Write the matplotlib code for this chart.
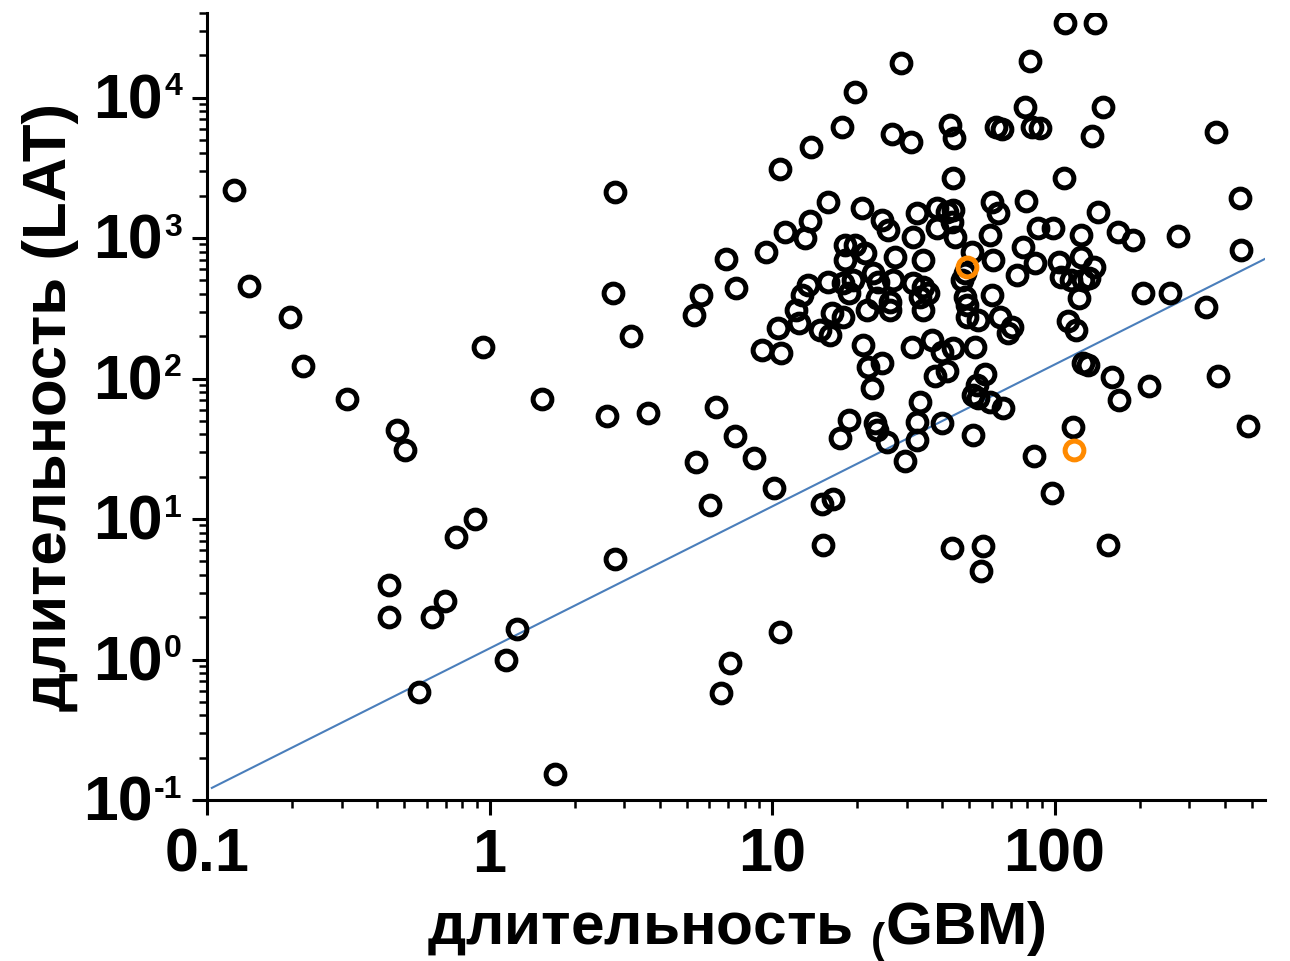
import numpy as np
import matplotlib
matplotlib.use('Agg')
import matplotlib.pyplot as plt
import matplotlib.transforms as mtransforms
from matplotlib.ticker import LogLocator, NullFormatter, FixedLocator, FixedFormatter
from matplotlib.offsetbox import TextArea, HPacker, AnnotationBbox

plt.rcParams['font.family'] = ['Liberation Sans', 'DejaVu Sans']
plt.rcParams['font.weight'] = 'bold'
plt.rcParams['mathtext.fontset'] = 'custom'
plt.rcParams['mathtext.rm'] = 'Liberation Sans:bold'
plt.rcParams['mathtext.bf'] = 'Liberation Sans:bold'
plt.rcParams['mathtext.default'] = 'bf'

# GBM / LAT durations (s)
gbm = [0.125, 0.141, 0.196, 0.219, 0.314, 0.472, 0.504, 0.95, 1.53, 2.77,
       2.73, 3.16, 2.60, 3.63, 0.885, 0.758, 0.442, 0.442, 0.628, 0.693,
       1.256, 1.14, 0.565, 1.71, 2.79, 6.02, 10.2, 15.0, 16.4, 15.1,
       43.3, 55.7, 55.0, 97.9, 155, 10.7, 7.08, 6.58, 109, 139,
       28.6, 81.8, 19.6, 78.5, 148, 17.7, 26.5, 31.0, 42.6, 44.0,
       62.0, 65.1, 83.2, 88.8, 136, 373, 13.7, 10.7, 43.6, 108,
       454, 274, 457, 256, 344, 379, 484, 206, 160, 169,
       216, 116, 84.5, 6.85, 5.59, 5.28, 7.44, 9.50, 11.1, 6.32,
       7.38, 8.61, 5.37, 15.8, 20.8, 13.6, 13.1, 24.5, 25.7, 32.5,
       31.5, 38.3, 41.6, 43.3, 38.3, 44.4, 18.1, 19.6, 21.3, 18.1,
       27.2, 34.2, 13.4, 12.8, 15.8, 17.8, 19.3, 22.7, 23.7, 26.8,
       31.5, 34.2, 18.8, 23.5, 26.1, 33.4, 35.6, 21.7, 26.1, 34.2,
       12.2, 16.3, 17.8, 10.5, 12.5, 43.6, 60.0, 63.0, 79.2, 142.5,
       168, 190, 87.3, 98.6, 124, 59.0, 77.3, 51.0, 60.5, 85.2,
       73.6, 103.7, 124, 138, 105.4, 114.3, 126, 132.4, 122, 48.2,
       47.0, 60.0, 48.2, 49.0, 49.0, 64.1, 53.5, 111.5, 119, 70.6,
       9.19, 10.8, 14.8, 16.0, 21.0, 21.8, 24.5, 22.5, 31.3, 36.8,
       39.9, 43.6, 37.7, 41.6, 33.4, 18.8, 17.4, 23.1, 23.5, 25.5,
       32.5, 39.9, 32.5, 29.5, 68.4, 52.2, 56.7, 53.1, 51.4, 53.5,
       59.0, 65.6, 51.4, 126, 131]
lat = [2200, 454, 273, 122, 72, 43, 31, 169, 71, 2120,
       405, 200, 54, 57, 10.0, 7.4, 3.37, 2.0, 2.0, 2.63,
       1.64, 1.0, 0.59, 0.152, 5.16, 12.5, 16.5, 12.9, 14.0, 6.49,
       6.18, 6.39, 4.3, 15.2, 6.49, 1.56, 0.95, 0.58, 33900, 33900,
       17600, 18200, 10900, 8540, 8540, 6150, 5480, 4810, 6350, 5140,
       6150, 5960, 6150, 6050, 5310, 5680, 4440, 3090, 2670, 2670,
       1920, 1030, 819, 405, 321, 105, 45.7, 405, 102, 70,
       88, 44.9, 27.9, 706, 392, 282, 439, 793, 1100, 62.4,
       38.7, 27.0, 25.3, 1800, 1630, 1318, 1000, 1340, 1136, 1500,
       1010, 1630, 1527, 1296, 1174, 1010, 889, 889, 779, 695,
       730, 695, 461, 392, 484, 476, 500, 561, 484, 500,
       476, 447, 405, 373, 349, 378, 405, 306, 306, 306,
       306, 291, 273, 228, 247, 1580, 1800, 1500, 1830, 1527,
       1100, 965, 1174, 1174, 1047, 1047, 860, 793, 695, 661,
       543, 673, 730, 619, 526, 500, 500, 517, 373, 561,
       500, 392, 378, 332, 273, 273, 260, 255, 220, 232,
       159, 151, 220, 203, 172, 120, 130, 85, 167, 187,
       154, 164, 105, 114, 67.6, 50.3, 37.5, 48.0, 42.8, 35.2,
       48.8, 48.0, 36.3, 26.1, 210, 167, 108, 89.6, 75.9, 72.3,
       67.6, 61.4, 39.4, 130, 124]

gbm_hl = [49.0, 117]
lat_hl = [620, 30.8]

# fitted line LAT = a * GBM^b
fit_a = 1.2
fit_b = 1.01
fit_x = [0.104, 556]

x_ticks = [0.1, 1, 10, 100]
x_tick_labels = ['0.1', '1', '10', '100']
y_exps = [-1, 0, 1, 2, 3, 4]

fig = plt.figure(figsize=(12.9, 9.61), dpi=100)
ax = fig.add_axes([0.1605, 0.1675, 0.8201, 0.819])

xf = np.array(fit_x)
ax.plot(xf, fit_a * xf ** fit_b, color='#4a7ebb', lw=1.5, zorder=1)

ax.plot(gbm, lat, 'o', ms=13.5, mfc='none', mec='black', mew=3.6, zorder=2)
ax.plot(gbm_hl, lat_hl, 'o', ms=13.5, mfc='none', mec='#ff8a00', mew=3.6, zorder=3)

ax.set_xscale('log')
ax.set_yscale('log')
ax.set_xlim(0.1, 556)
ax.set_ylim(0.1, 4e4)

for s in ['top', 'right']:
    ax.spines[s].set_visible(False)
for s in ['left', 'bottom']:
    ax.spines[s].set_linewidth(2.2)

ax.xaxis.set_major_locator(FixedLocator(x_ticks))
ax.xaxis.set_major_formatter(FixedFormatter(x_tick_labels))
ax.xaxis.set_minor_locator(LogLocator(base=10, subs=np.arange(2, 10), numticks=20))
ax.xaxis.set_minor_formatter(NullFormatter())
ax.yaxis.set_major_locator(FixedLocator([10.0 ** e for e in y_exps]))
ax.yaxis.set_major_formatter(NullFormatter())
ax.yaxis.set_minor_locator(LogLocator(base=10, subs=np.arange(2, 10), numticks=20))
ax.yaxis.set_minor_formatter(NullFormatter())

ax.tick_params(which='major', direction='out', length=11, width=2.2, labelsize=44, pad=9)
ax.tick_params(which='minor', direction='out', length=6, width=1.8)

# y tick labels as 10 with small raised exponent
trans = mtransforms.blended_transform_factory(ax.transAxes, ax.transData)
for e in y_exps:
    base = TextArea('10', textprops=dict(fontsize=45, fontweight='bold'))
    sup = TextArea(str(e), textprops=dict(fontsize=23, fontweight='bold'))
    box = HPacker(children=[base, sup], align='top', pad=0, sep=1)
    ab = AnnotationBbox(box, (0, 10.0 ** e), xycoords=trans, xybox=(-18, -3),
                        boxcoords='offset points', box_alignment=(1, 0.5),
                        frameon=False, pad=0, annotation_clip=False)
    ax.add_artist(ab)

ax.set_xlabel('длительность $_{(}$GBM)', fontsize=43.5, fontweight='bold', va='center')
ax.xaxis.set_label_coords(0.5, -0.168)
ax.set_ylabel('длительность (LAT)', fontsize=44.5, fontweight='bold', va='center')
ax.yaxis.set_label_coords(-0.148, 0.5)

fig.savefig('out.png', dpi=100)
